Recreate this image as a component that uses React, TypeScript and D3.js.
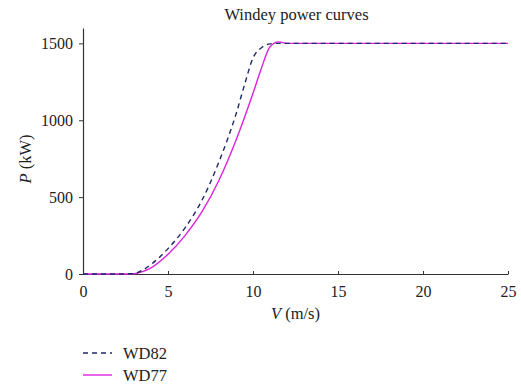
import React, {useEffect, useRef} from "react";
import * as d3 from "d3";

// wind speed (m/s) and power (kW)
const windWD82: number[] = [0, 1, 2, 3, 3.5, 4, 5, 6, 7, 8, 9, 9.5, 10, 10.5, 11, 11.5, 12, 15, 20, 25];
const powerWD82: number[] = [0, 0, 0, 3, 25, 62, 165, 300, 480, 730, 1040, 1230, 1405, 1472, 1497, 1500, 1500, 1500, 1500, 1500];

const windWD77: number[] = [0, 1, 2, 3, 3.5, 4, 5, 6, 7, 8, 9, 10, 10.5, 11, 11.5, 12, 15, 20, 25];
const powerWD77: number[] = [0, 0, 0, 2, 15, 40, 128, 250, 405, 610, 870, 1175, 1340, 1478, 1510, 1500, 1500, 1500, 1500];

const xTicks: number[] = [0, 5, 10, 15, 20, 25];
const yTicks: number[] = [0, 500, 1000, 1500];

interface Pt {
    v: number;
    p: number;
}

const WindeyChart: React.FC = () => {
    const svgRef = useRef<SVGSVGElement>(null);
    const width = 521;
    const height = 385;
    const margin = {top: 28, right: 13, bottom: 111, left: 83};
    const innerWidth = width - margin.left - margin.right;
    const innerHeight = height - margin.top - margin.bottom;

    useEffect(() => {
        const svg = d3.select(svgRef.current);
        svg.selectAll("*").remove();
        const font = "Liberation Serif";

        const x = d3.scaleLinear().domain([0, 25]).range([0, innerWidth]);
        const y = d3.scaleLinear().domain([0, 1600]).range([innerHeight, 0]);

        const g = svg.append("g").attr("transform", `translate(${margin.left},${margin.top})`);

        const xAxis = g.append("g")
            .attr("transform", `translate(0,${innerHeight})`)
            .call(d3.axisBottom(x).tickValues(xTicks).tickFormat(d3.format("d"))
                .tickSizeInner(-3).tickSizeOuter(0).tickPadding(12));
        const yAxis = g.append("g")
            .call(d3.axisLeft(y).tickValues(yTicks).tickFormat(d3.format("d"))
                .tickSizeInner(4).tickSizeOuter(0).tickPadding(6));

        [xAxis, yAxis].forEach(a => {
            a.attr("font-family", font).attr("font-size", 16);
            a.select(".domain").attr("stroke", "#333").attr("stroke-width", 1.2);
            a.selectAll(".tick line").attr("stroke", "#333");
            a.selectAll(".tick text").attr("fill", "#222");
        });

        const line = d3.line<Pt>()
            .x(d => x(d.v))
            .y(d => y(d.p))
            .curve(d3.curveMonotoneX);

        const wd82: Pt[] = windWD82.map((v, i) => ({v, p: powerWD82[i]}));
        const wd77: Pt[] = windWD77.map((v, i) => ({v, p: powerWD77[i]}));

        g.append("path")
            .datum(wd77)
            .attr("fill", "none")
            .attr("stroke", "#dd22dd")
            .attr("stroke-width", 1.4)
            .attr("d", line);

        g.append("path")
            .datum(wd82)
            .attr("fill", "none")
            .attr("stroke", "#1f2868")
            .attr("stroke-width", 1.4)
            .attr("stroke-dasharray", "5,4")
            .attr("d", line);

        // title
        svg.append("text")
            .attr("x", margin.left + innerWidth / 2 + 1)
            .attr("y", 20)
            .attr("text-anchor", "middle")
            .attr("font-family", font)
            .attr("font-size", 16.5)
            .attr("fill", "#222")
            .text("Windey power curves");

        // x label
        const xl = svg.append("text")
            .attr("x", margin.left + innerWidth / 2)
            .attr("y", 319)
            .attr("text-anchor", "middle")
            .attr("font-family", font)
            .attr("font-size", 16.5)
            .attr("fill", "#222");
        xl.append("tspan").attr("font-style", "italic").text("V");
        xl.append("tspan").text(" (m/s)");

        // y label
        const yl = svg.append("text")
            .attr("transform", `translate(31,${margin.top + innerHeight / 2 + 8}) rotate(-90)`)
            .attr("text-anchor", "middle")
            .attr("font-family", font)
            .attr("font-size", 16.5)
            .attr("fill", "#222");
        yl.append("tspan").attr("font-style", "italic").text("P");
        yl.append("tspan").text(" (kW)");

        // legend
        const legend = [
            {name: "WD82", color: "#1f2868", dash: "5,4"},
            {name: "WD77", color: "#dd22dd", dash: null}
        ];
        const lg = svg.append("g").attr("transform", "translate(83,353)");
        legend.forEach((d, i) => {
            const row = lg.append("g").attr("transform", `translate(0,${i * 22})`);
            row.append("line")
                .attr("x1", 0).attr("x2", 29)
                .attr("y1", 0).attr("y2", 0)
                .attr("stroke", d.color)
                .attr("stroke-width", 1.4)
                .attr("stroke-dasharray", d.dash);
            row.append("text")
                .attr("x", 40)
                .attr("y", 5.5)
                .attr("font-family", font)
                .attr("font-size", 16.5)
                .attr("fill", "#222")
                .text(d.name);
        });
    }, []);

    return <svg ref={svgRef} width={width} height={height}
                style={{position: "absolute", left: 0, top: 0, background: "#fff"}}></svg>;
};

export default WindeyChart;
